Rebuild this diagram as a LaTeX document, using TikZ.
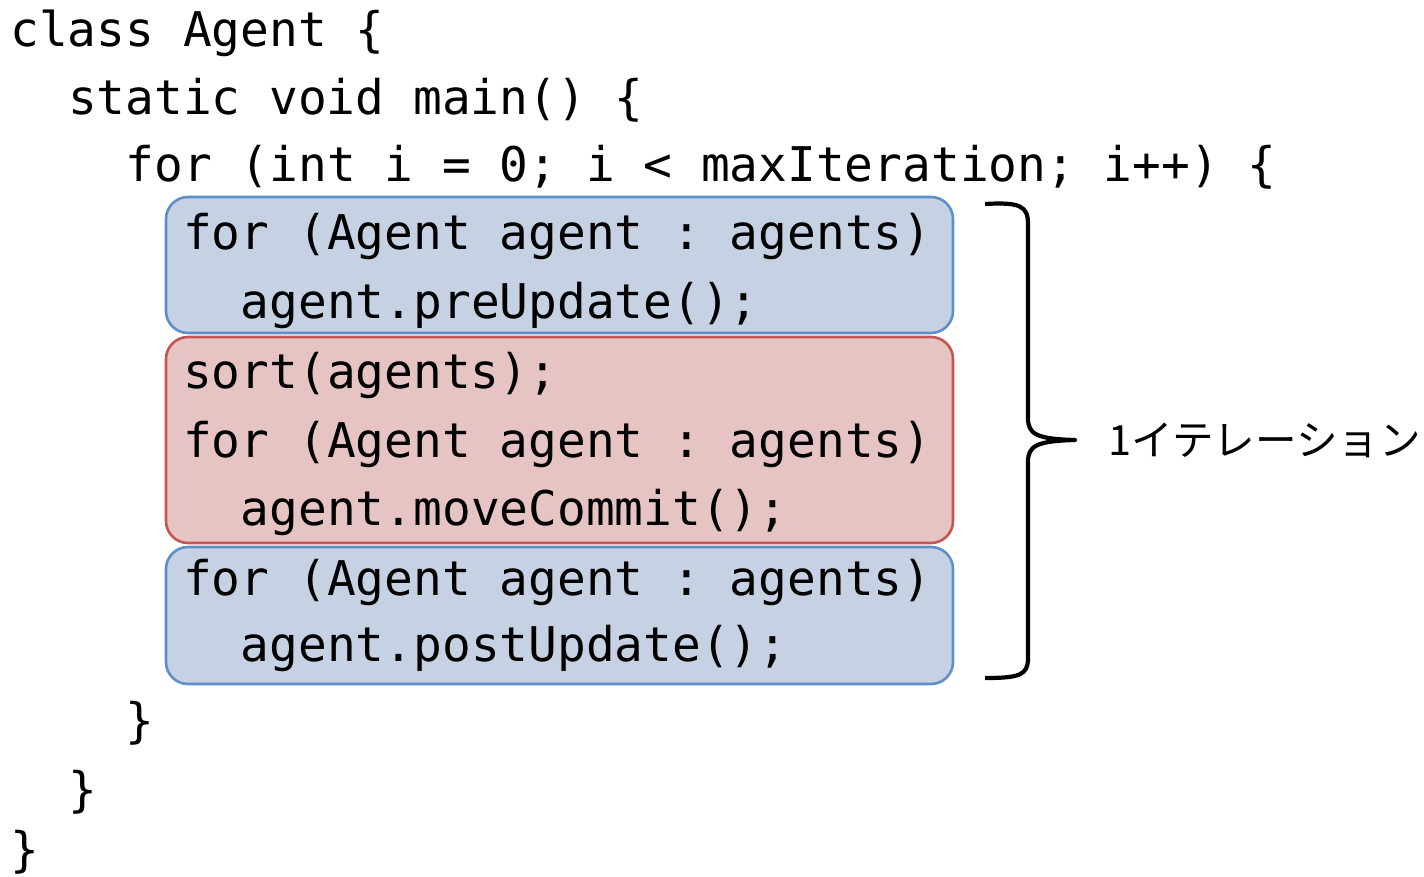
\documentclass[tikz,border=0pt]{standalone}
\usepackage{fontspec}
\setmonofont{DejaVu Sans Mono}
\newfontfamily\jpfont{Noto Sans CJK JP}
\definecolor{updfill}{HTML}{C6D2E4}
\definecolor{updline}{HTML}{5E8FC9}
\definecolor{movfill}{HTML}{E7C4C4}
\definecolor{movline}{HTML}{C65451}
\tikzset{
  code/.style={anchor=base west,inner sep=0pt,font=\ttfamily\frenchspacing\fontsize{23.9}{30}\selectfont},
  phase/.style={rounded corners=11pt,line width=1.3pt},
  upd/.style={phase,draw=updline,fill=updfill},
  mov/.style={phase,draw=movline,fill=movfill},
  iterbrace/.style={line width=2.1pt,line join=round},
  iterlabel/.style={anchor=base west,inner sep=0pt,font=\jpfont\fontsize{20.8}{24}\selectfont}
}
\begin{document}
\begin{tikzpicture}[x=0.5pt,y=-0.5pt]
  \useasboundingbox (0,0) rectangle (1424,877);
  % phases of one iteration
  \draw[upd] (166,197) rectangle (953,333);
  \draw[mov] (166,337) rectangle (953,543);
  \draw[upd] (166,547) rectangle (953,684);
  % code lines
  \node[code] (cls) at (10,47) {class Agent \{};
  \node[code] (mainfn) at (67.6,115) {static void main() \{};
  \node[code] (outer) at (125.2,182) {for (int i = 0; i < maxIteration; i++) \{};
  \node[code] (pre1) at (182.8,250) {for (Agent agent : agents)};
  \node[code] (pre2) at (240.4,318) {agent.preUpdate();};
  \node[code] (srt) at (182.8,388) {sort(agents);};
  \node[code] (mov1) at (182.8,457) {for (Agent agent : agents)};
  \node[code] (mov2) at (240.4,525) {agent.moveCommit();};
  \node[code] (post1) at (182.8,595) {for (Agent agent : agents)};
  \node[code] (post2) at (240.4,661) {agent.postUpdate();};
  \node[code] (endouter) at (125.2,737) {\}};
  \node[code] (endmain) at (67.6,806) {\}};
  \node[code] (endcls) at (10,866) {\}};
  % brace
  \coordinate (bt) at (985,204);
  \coordinate (bb) at (985,678);
  \coordinate (tip) at (1075,440);
  \draw[iterbrace] (bt) .. controls (1020,202) and (1028,206) .. (1028,224) -- (1028,418)
    .. controls (1028,434) and (1036,439) .. (tip)
    .. controls (1036,441) and (1028,446) .. (1028,462) -- (1028,658)
    .. controls (1028,675) and (1020,678) .. (bb);
  \node[iterlabel] (iter) at (1108,455) {1イテレーション};
\end{tikzpicture}
\end{document}
